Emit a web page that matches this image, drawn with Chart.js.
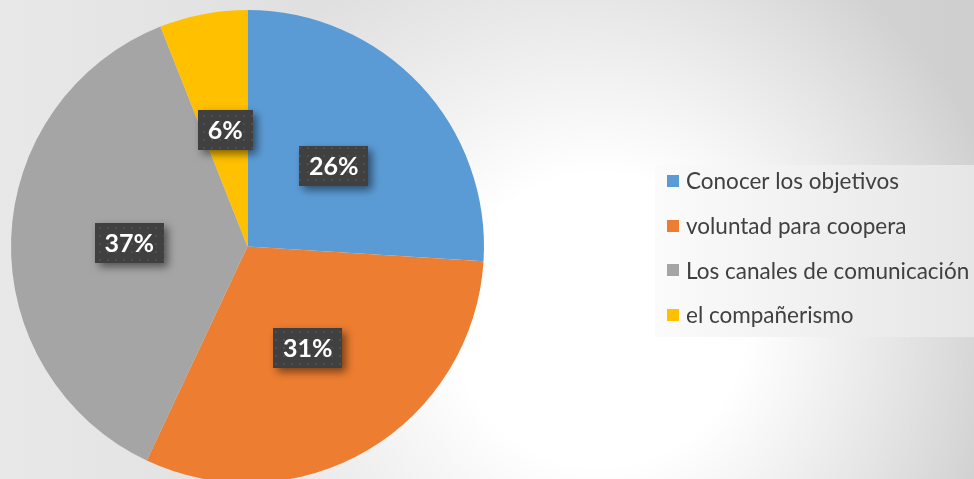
<!DOCTYPE html>
<html>
<head>
<meta charset="utf-8">
<script src="https://cdn.jsdelivr.net/npm/chart.js@4"></script>
<style>
  html, body { margin: 0; padding: 0; overflow: hidden; background: #e4e4e4; }
  #wrap { position: relative; width: 974px; height: 493px; }
</style>
</head>
<body>
<div id="wrap"><canvas id="pieChart"></canvas></div>
<script>
const categories = ["Conocer los objetivos", "voluntad para coopera", "Los canales de comunicación", "el compañerismo"];
const percentages = [26, 31, 37, 6];
const sliceColors = ["#5b9bd5", "#ed7d31", "#a5a5a5", "#ffc000"];

// office-like gradient backdrop
const backdrop = {
  id: "backdrop",
  beforeDraw(chart) {
    const ctx = chart.ctx;
    const w = chart.width, h = chart.height;
    ctx.save();
    const lin = ctx.createLinearGradient(0, 0, w, 0);
    lin.addColorStop(0, "#e8e8e8");
    lin.addColorStop(1, "#cfcfcf");
    ctx.fillStyle = lin;
    ctx.fillRect(0, 0, w, h);
    const glow = ctx.createRadialGradient(600, 320, 0, 600, 320, 420);
    glow.addColorStop(0, "rgba(255,255,255,1)");
    glow.addColorStop(0.35, "rgba(255,255,255,1)");
    glow.addColorStop(1, "rgba(255,255,255,0)");
    ctx.fillStyle = glow;
    ctx.fillRect(0, 0, w, h);
    ctx.restore();
  }
};

// dark dotted boxes with the percentages
const pctLabels = {
  id: "pctLabels",
  afterDatasetsDraw(chart) {
    const ctx = chart.ctx;
    const pat = document.createElement("canvas");
    pat.width = 8; pat.height = 8;
    const pc = pat.getContext("2d");
    pc.fillStyle = "#404040";
    pc.fillRect(0, 0, 8, 8);
    pc.fillStyle = "#4e4e4e";
    pc.fillRect(3, 3, 2, 2);
    const pattern = ctx.createPattern(pat, "repeat");

    chart.getDatasetMeta(0).data.forEach((arc, i) => {
      const p = arc.getProps(["x", "y", "startAngle", "endAngle", "outerRadius"], true);
      const mid = (p.startAngle + p.endAngle) / 2;
      const r = p.outerRadius * 0.5;
      const cx = p.x + Math.cos(mid) * r;
      const cy = p.y + Math.sin(mid) * r;
      const txt = chart.data.datasets[0].data[i] + "%";
      ctx.save();
      ctx.font = "bold 25px Lato, 'Open Sans', sans-serif";
      const tw = ctx.measureText(txt).width;
      const bw = tw + 20, bh = 40;
      ctx.shadowColor = "rgba(0,0,0,0.5)";
      ctx.shadowBlur = 8;
      ctx.shadowOffsetX = 4;
      ctx.shadowOffsetY = 4;
      ctx.fillStyle = pattern;
      ctx.fillRect(Math.round(cx - bw / 2), Math.round(cy - bh / 2), Math.round(bw), bh);
      ctx.shadowColor = "transparent";
      ctx.fillStyle = "#ffffff";
      ctx.textAlign = "center";
      ctx.textBaseline = "middle";
      ctx.fillText(txt, cx, cy + 1);
      ctx.restore();
    });
  }
};

// legend panel on the right
const sideLegend = {
  id: "sideLegend",
  afterDraw(chart) {
    const ctx = chart.ctx;
    ctx.save();
    const g = ctx.createLinearGradient(655, 0, 974, 0);
    g.addColorStop(0, "#fbfbfb");
    g.addColorStop(1, "#e6e6e6");
    ctx.fillStyle = g;
    ctx.fillRect(655, 165, 319, 172);
    ctx.font = "22.5px Lato, 'Open Sans', sans-serif";
    ctx.textBaseline = "middle";
    chart.data.labels.forEach((lbl, i) => {
      const y = 181 + i * 44.7;
      ctx.fillStyle = chart.data.datasets[0].backgroundColor[i];
      ctx.fillRect(667, Math.round(y - 6), 12, 12);
      ctx.fillStyle = "#404040";
      ctx.fillText(lbl, 686, y + 1);
    });
    ctx.restore();
  }
};

new Chart(document.getElementById("pieChart"), {
  type: "pie",
  data: {
    labels: categories,
    datasets: [{
      data: percentages,
      backgroundColor: sliceColors,
      borderWidth: 0
    }]
  },
  options: {
    responsive: true,
    maintainAspectRatio: false,
    animation: false,
    radius: 236.5,
    layout: { padding: { left: 0, right: 479, top: 0, bottom: 0 } },
    plugins: {
      legend: { display: false },
      tooltip: { enabled: false }
    }
  },
  plugins: [backdrop, pctLabels, sideLegend]
});
</script>
</body>
</html>
